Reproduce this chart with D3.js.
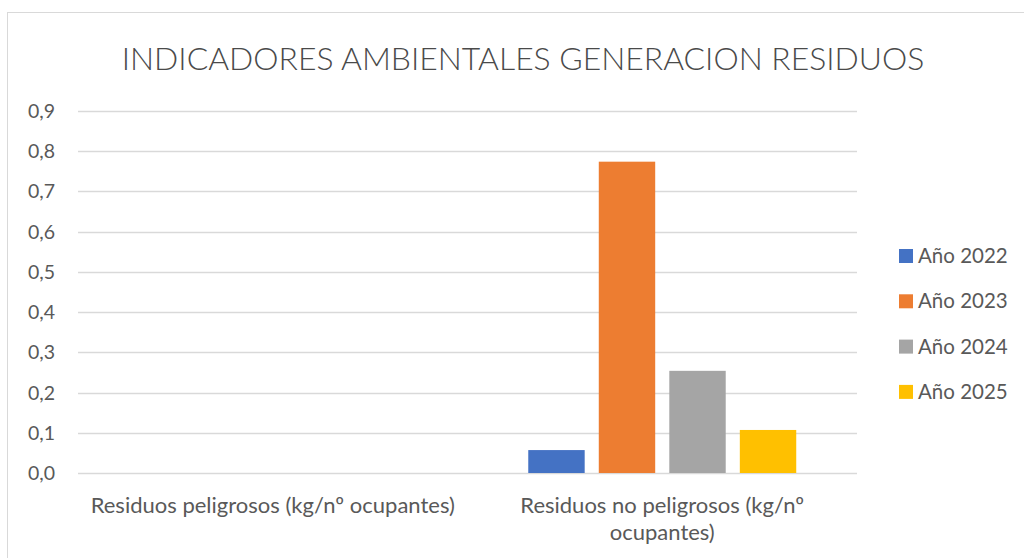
<!DOCTYPE html>
<html><head><meta charset="utf-8">
<script src="https://cdn.jsdelivr.net/npm/d3@7"></script>
<style>html,body{margin:0;padding:0;background:#fff;}svg{display:block;}</style>
</head><body>
<svg id="chart" width="1024" height="558"></svg>
<script>
const title = "INDICADORES AMBIENTALES GENERACION RESIDUOS";
const categories = [["Residuos peligrosos (kg/nº ocupantes)"], ["Residuos no peligrosos (kg/nº", "ocupantes)"]];
const seriesNames = ["Año 2022", "Año 2023", "Año 2024", "Año 2025"];
const seriesColors = ["#4472c4", "#ed7d31", "#a5a5a5", "#ffc000"];
const values2022 = [0, 0.057];
const values2023 = [0, 0.774];
const values2024 = [0, 0.254];
const values2025 = [0, 0.107];
const yTicks = [0, 0.1, 0.2, 0.3, 0.4, 0.5, 0.6, 0.7, 0.8, 0.9];

const series = [values2022, values2023, values2024, values2025];
const svg = d3.select("#chart");
const font = "Lato, 'Open Sans', sans-serif";
const textColor = "#595959";

// chart border
svg.append("rect").attr("x", 7.5).attr("y", 12.5).attr("width", 1030).attr("height", 560)
  .attr("fill", "#fff").attr("stroke", "#d9d9d9").attr("stroke-width", 1);

// title
const tt = svg.append("text").attr("x", 523).attr("y", 70).attr("text-anchor", "middle")
  .attr("font-family", font).attr("font-weight", 300).attr("font-size", 37)
  .attr("fill", "#4a4a4a").text(title);
const tw = tt.node().getComputedTextLength();
tt.attr("font-size", 37 * 803 / tw);

const plotL = 78, plotR = 857;
const y = d3.scaleLinear().domain([0, 0.9]).range([473, 111]);
const x0 = d3.scaleBand().domain(d3.range(categories.length)).range([plotL, plotR]).paddingInner(0.312).paddingOuter(0.156);
const x1 = d3.scaleBand().domain(d3.range(seriesNames.length)).range([0, x0.bandwidth()]).paddingInner(0.2).paddingOuter(0);

// gridlines
svg.append("g").selectAll("line").data(yTicks).join("line")
  .attr("x1", plotL).attr("x2", plotR)
  .attr("y1", d => Math.round(y(d)) + 0.5).attr("y2", d => Math.round(y(d)) + 0.5)
  .attr("stroke", "#d9d9d9").attr("stroke-width", 1.3);

// y labels
svg.append("g").selectAll("text").data(yTicks).join("text")
  .attr("x", 55).attr("y", d => y(d) + 7).attr("text-anchor", "end")
  .attr("font-family", font).attr("font-size", 19.5).attr("fill", textColor)
  .text(d => d3.format(".1f")(d).replace(".", ","));

// bars
const groups = svg.append("g").selectAll("g").data(categories.map((c, i) => i)).join("g")
  .attr("transform", i => `translate(${x0(i)},0)`);
groups.selectAll("rect").data(i => series.map((s, k) => ({k, v: s[i]}))).join("rect")
  .attr("x", d => x1(d.k)).attr("width", x1.bandwidth())
  .attr("y", d => y(d.v)).attr("height", d => y(0) - y(d.v))
  .attr("fill", d => seriesColors[d.k]);

// x labels
categories.forEach((lines, i) => {
  const t = svg.append("text").attr("text-anchor", "middle")
    .attr("font-family", font).attr("font-size", 22).attr("fill", textColor);
  lines.forEach((ln, j) => {
    t.append("tspan").attr("x", x0(i) + x0.bandwidth() / 2).attr("y", 513 + j * 27).text(ln);
  });
});

// legend
const lg = svg.append("g").selectAll("g").data(seriesNames).join("g")
  .attr("transform", (d, i) => `translate(899,${249 + i * 45.3})`);
lg.append("rect").attr("width", 14).attr("height", 14).attr("fill", (d, i) => seriesColors[i]);
lg.append("text").attr("x", 19).attr("y", 14).attr("font-family", font).attr("font-size", 20.5)
  .attr("fill", textColor).text(d => d);
</script>
</body></html>
